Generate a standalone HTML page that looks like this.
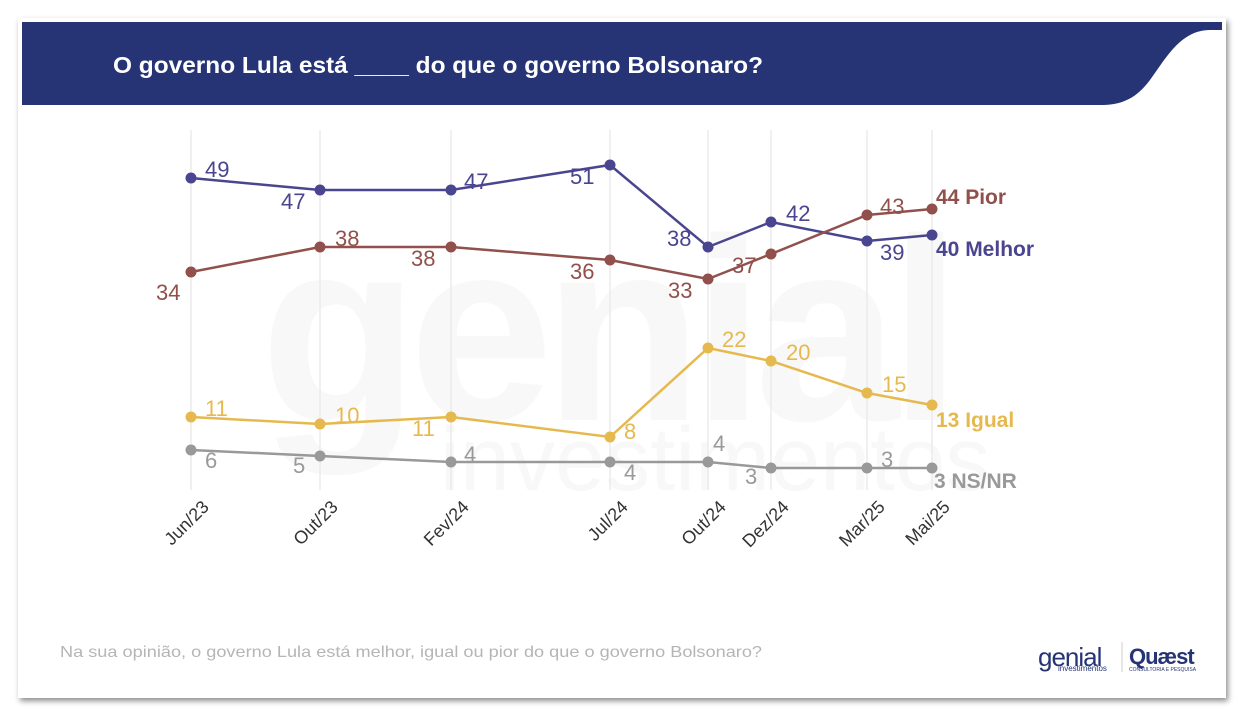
<!DOCTYPE html>
<html><head><meta charset="utf-8"><style>
html,body{margin:0;padding:0;background:#fff;width:1246px;height:726px;overflow:hidden;font-family:"Liberation Sans",sans-serif}
</style></head><body>
<svg width="1246" height="726" viewBox="0 0 1246 726" xmlns="http://www.w3.org/2000/svg" font-family="Liberation Sans, sans-serif">
<defs><filter id="sh" x="-5%" y="-5%" width="110%" height="110%"><feDropShadow dx="2" dy="3" stdDeviation="3" flood-color="#000" flood-opacity="0.45"/></filter></defs>
<rect x="18" y="18" width="1208" height="680" fill="#fff" filter="url(#sh)"/>
<path d="M22 22 H1222 V30 H1210 C1180 30 1165 60 1150 80 C1135 100 1120 105 1100 105 H22 Z" fill="#263476"/>
<text x="113" y="73" fill="#fff" font-size="23" font-weight="bold" textLength="650" lengthAdjust="spacingAndGlyphs">O governo Lula está ____ do que o governo Bolsonaro?</text>
<!-- watermark -->
<text x="260" y="420" font-size="260" font-weight="bold" letter-spacing="-10" fill="#f7f8f7">genial</text>
<text x="440" y="490" fill="#f7f8f7" font-size="90">investimentos</text>
<!-- gridlines -->
<g stroke="#ebebeb" stroke-width="1.5">
<line x1="191" y1="130" x2="191" y2="490"/><line x1="320" y1="130" x2="320" y2="490"/>
<line x1="451" y1="130" x2="451" y2="490"/><line x1="610" y1="130" x2="610" y2="490"/>
<line x1="708" y1="130" x2="708" y2="490"/><line x1="771" y1="130" x2="771" y2="490"/>
<line x1="867" y1="130" x2="867" y2="490"/><line x1="932" y1="130" x2="932" y2="490"/>
</g>
<!-- series -->
<g stroke-width="2.5" fill="none">
<polyline stroke="#4a458f" points="191,178 320,190 451,190 610,165 708,247 771,222 867,241 932,235"/>
<polyline stroke="#91504b" points="191,272 320,247 451,247 610,260 708,279 771,254 867,215 932,209"/>
<polyline stroke="#e6b94f" points="191,417 320,424 451,417 610,437 708,348 771,361 867,393 932,405"/>
<polyline stroke="#999" points="191,450 320,456 451,462 610,462 708,462 771,468 867,468 932,468"/>
</g>
<g fill="#4a458f"><circle cx="191" cy="178" r="5.5"/><circle cx="320" cy="190" r="5.5"/><circle cx="451" cy="190" r="5.5"/><circle cx="610" cy="165" r="5.5"/><circle cx="708" cy="247" r="5.5"/><circle cx="771" cy="222" r="5.5"/><circle cx="867" cy="241" r="5.5"/><circle cx="932" cy="235" r="5.5"/></g>
<g fill="#91504b"><circle cx="191" cy="272" r="5.5"/><circle cx="320" cy="247" r="5.5"/><circle cx="451" cy="247" r="5.5"/><circle cx="610" cy="260" r="5.5"/><circle cx="708" cy="279" r="5.5"/><circle cx="771" cy="254" r="5.5"/><circle cx="867" cy="215" r="5.5"/><circle cx="932" cy="209" r="5.5"/></g>
<g fill="#e6b94f"><circle cx="191" cy="417" r="5.5"/><circle cx="320" cy="424" r="5.5"/><circle cx="451" cy="417" r="5.5"/><circle cx="610" cy="437" r="5.5"/><circle cx="708" cy="348" r="5.5"/><circle cx="771" cy="361" r="5.5"/><circle cx="867" cy="393" r="5.5"/><circle cx="932" cy="405" r="5.5"/></g>
<g fill="#999"><circle cx="191" cy="450" r="5.5"/><circle cx="320" cy="456" r="5.5"/><circle cx="451" cy="462" r="5.5"/><circle cx="610" cy="462" r="5.5"/><circle cx="708" cy="462" r="5.5"/><circle cx="771" cy="468" r="5.5"/><circle cx="867" cy="468" r="5.5"/><circle cx="932" cy="468" r="5.5"/></g>
<!-- labels -->
<g font-size="22" fill="#4a458f">
<text x="205" y="177">49</text><text x="281" y="209">47</text><text x="464" y="189">47</text><text x="570" y="184">51</text><text x="667" y="246">38</text><text x="786" y="221">42</text><text x="880" y="260">39</text>
</g>
<text x="936" y="256" font-size="21" font-weight="bold" fill="#4a458f">40 Melhor</text>
<g font-size="22" fill="#91504b">
<text x="156" y="300">34</text><text x="335" y="246">38</text><text x="411" y="266">38</text><text x="570" y="279">36</text><text x="668" y="298">33</text><text x="732" y="273">37</text><text x="880" y="214">43</text>
</g>
<text x="936" y="204" font-size="21" font-weight="bold" fill="#91504b">44 Pior</text>
<g font-size="22" fill="#e6b94f">
<text x="205" y="416">11</text><text x="335" y="423">10</text><text x="412" y="436">11</text><text x="624" y="439">8</text><text x="722" y="347">22</text><text x="786" y="360">20</text><text x="882" y="392">15</text>
</g>
<text x="936" y="427" font-size="21" font-weight="bold" fill="#e6b94f">13 Igual</text>
<g font-size="22" fill="#999">
<text x="205" y="468">6</text><text x="293" y="473">5</text><text x="464" y="462">4</text><text x="624" y="480">4</text><text x="713" y="451">4</text><text x="745" y="484">3</text><text x="881" y="467">3</text>
</g>
<text x="934" y="488" font-size="21" font-weight="bold" fill="#999">3 NS/NR</text>
<!-- x labels -->
<g font-size="18" fill="#333" text-anchor="end">
<text transform="translate(210,508) rotate(-45)">Jun/23</text>
<text transform="translate(339,508) rotate(-45)">Out/23</text>
<text transform="translate(470,508) rotate(-45)">Fev/24</text>
<text transform="translate(629,508) rotate(-45)">Jul/24</text>
<text transform="translate(727,508) rotate(-45)">Out/24</text>
<text transform="translate(790,508) rotate(-45)">Dez/24</text>
<text transform="translate(886,508) rotate(-45)">Mar/25</text>
<text transform="translate(951,508) rotate(-45)">Mai/25</text>
</g>
<text x="60" y="657" font-size="16" fill="#b5b5b5" textLength="702" lengthAdjust="spacingAndGlyphs">Na sua opinião, o governo Lula está melhor, igual ou pior do que o governo Bolsonaro?</text>
<!-- logos -->
<text x="1038" y="666" font-size="26" fill="#263476" letter-spacing="-1">genial</text>
<text x="1058" y="671" font-size="8" fill="#263476">investimentos</text>
<line x1="1122" y1="642" x2="1122" y2="672" stroke="#ccc"/>
<text x="1129" y="664" font-size="22" font-weight="bold" fill="#263476" letter-spacing="-1">Quæst</text>
<text x="1129" y="671" font-size="5" fill="#263476">CONSULTORIA E PESQUISA</text>
</svg>
</body></html>
